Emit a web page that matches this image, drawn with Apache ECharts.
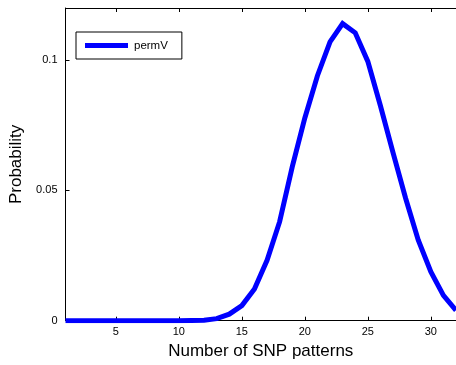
<!DOCTYPE html>
<html>
<head>
<meta charset="utf-8">
<script src="https://cdn.jsdelivr.net/npm/echarts@6/dist/echarts.min.js"></script>
<style>
html,body{margin:0;padding:0;background:#fff;}
#chart{width:456px;height:365px;}
</style>
</head>
<body>
<div id="chart"></div>
<script>
const xValues = [1,2,3,4,5,6,7,8,9,10,11,12,13,14,15,16,17,18,19,20,21,22,23,24,25,26,27,28,29,30,31,32];
const permV = [0,0,0,0,0,0,0,0,0,0.00002,0.00006,0.0002,0.0008,0.0025,0.0058,0.0122,0.0232,0.038,0.059,0.0778,0.094,0.107,0.114,0.1105,0.0995,0.0825,0.0645,0.047,0.031,0.0188,0.0097,0.004];
const xTicks = [5,10,15,20,25,30];
const yTicks = [0,0.05,0.1];
const seriesName = 'permV';
const xTitle = 'Number of SNP patterns';
const yTitle = 'Probability';

const FONT = 'Liberation Sans, Arial, sans-serif';
const chart = echarts.init(document.getElementById('chart'), null, {renderer:'canvas'});
const data = xValues.map((x,i)=>[x, permV[i]]);
chart.setOption({
  animation:false,
  backgroundColor:'#fff',
  grid:{left:65.5, top:8, right:-6.3, bottom:44.3, containLabel:false},
  legend:{
    left:76, top:32, orient:'horizontal',
    data:[{name:seriesName, icon:'rect'}],
    itemWidth:43, itemHeight:5, itemGap:0,
    padding:[7,14,7,9],
    borderColor:'#000', borderWidth:1, backgroundColor:'#fff',
    textStyle:{fontFamily:FONT, fontSize:11.5, color:'#000', lineHeight:13, padding:[0,0,0,1]},
    selectedMode:false
  },
  xAxis:[{
    type:'value', min:1, max:32,
    name:xTitle, nameLocation:'middle', nameGap:18.5,
    nameTextStyle:{fontFamily:FONT, fontSize:17, color:'#000', verticalAlign:'top'},
    axisLine:{show:true, onZero:false, lineStyle:{color:'#000', width:1}},
    axisTick:{show:true, inside:true, length:4, customValues:xTicks, lineStyle:{color:'#000'}},
    axisLabel:{customValues:xTicks, fontFamily:FONT, fontSize:11, color:'#000', margin:6},
    splitLine:{show:false}
  },{
    type:'value', min:1, max:32, position:'top',
    axisLine:{show:true, onZero:false, lineStyle:{color:'#000', width:1}},
    axisTick:{show:true, inside:true, length:4, customValues:xTicks, lineStyle:{color:'#000'}},
    axisLabel:{show:false},
    splitLine:{show:false}
  }],
  yAxis:{
    type:'value', min:0, max:0.12,
    name:yTitle, nameLocation:'middle', nameGap:33,
    nameTextStyle:{fontFamily:FONT, fontSize:17, color:'#000'},
    axisLine:{show:true, onZero:false, lineStyle:{color:'#000', width:1}},
    axisTick:{show:true, inside:true, length:4, customValues:yTicks, lineStyle:{color:'#000'}},
    axisLabel:{customValues:yTicks, fontFamily:FONT, fontSize:11, color:'#000', margin:8},
    splitLine:{show:false}
  },
  series:[{
    name:seriesName, type:'line', data:data, xAxisIndex:0,
    showSymbol:false, symbol:'none', smooth:false,
    lineStyle:{color:'#0000ff', width:5, join:'miter'},
    itemStyle:{color:'#0000ff'},
    clip:true
  }]
});
</script>
</body>
</html>
